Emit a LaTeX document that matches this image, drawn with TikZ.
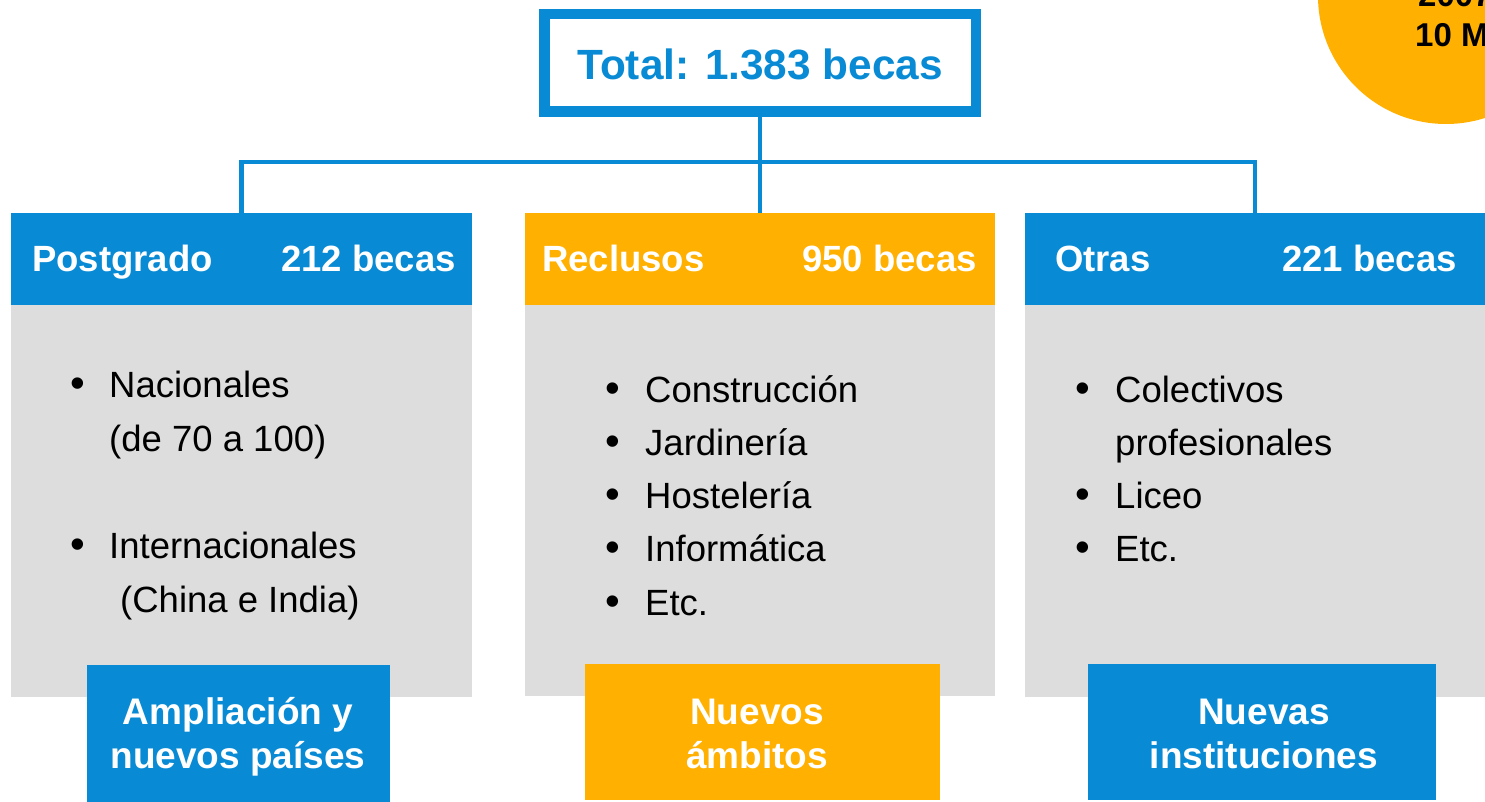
\documentclass[tikz,border=0pt]{standalone}
\usepackage{fontspec}
\setmainfont{Liberation Sans}
\definecolor{cblue}{HTML}{088BD4}
\definecolor{corange}{HTML}{FFB000}
\definecolor{cgray}{HTML}{DDDDDD}
\tikzset{
  box/.style={rectangle, inner sep=0pt, outer sep=0pt, anchor=north west},
  graybox/.style={box, fill=cgray},
  hdrtxt/.style={text=white, inner sep=0pt, font=\bfseries\fontsize{36.5}{44}\selectfont},
  listtxt/.style={text=black, inner sep=0pt, anchor=base west, font=\fontsize{36.5}{54}\selectfont},
  bottxt/.style={text=white, inner sep=0pt, anchor=base, font=\bfseries\fontsize{37}{44}\selectfont},
  conn/.style={draw=cblue, line width=4.5pt}
}
\begin{document}
\begin{tikzpicture}[x=1pt, y=-1pt]
\useasboundingbox (0,0) rectangle (1485,802);
\clip (0,0) rectangle (1485,802);
% circle at top right
\node[circle, fill=corange, inner sep=0pt, minimum size=256pt] (circ) at (1446,-4) {};
\node[anchor=base west, inner sep=0pt, font=\bfseries\fontsize{33}{40}\selectfont] (c1) at (1418,7) {2007};
\node[anchor=base west, inner sep=0pt, font=\bfseries\fontsize{33}{40}\selectfont] (c2) at (1415,47) {10 M};
% total box
\node[rectangle, draw=cblue, line width=10.5pt, fill=white, minimum width=431.5pt, minimum height=97.5pt, inner sep=0pt] (total) at (760,63) {};
\node[anchor=base, inner sep=0pt, text=cblue, font=\bfseries\fontsize{42.3}{50}\selectfont] (totaltxt) at (760,80) {Total: 1.383 becas};
% gray bodies
\node[graybox, minimum width=461pt, minimum height=392pt] (g1) at (11,305) {};
\node[graybox, minimum width=470pt, minimum height=391pt] (g2) at (525,305) {};
\node[graybox, minimum width=460pt, minimum height=392pt] (g3) at (1025,305) {};
% headers
\node[box, fill=cblue, minimum width=461pt, minimum height=92pt] (h1) at (11,213) {};
\node[box, fill=corange, minimum width=470pt, minimum height=92pt] (h2) at (525,213) {};
\node[box, fill=cblue, minimum width=460pt, minimum height=92pt] (h3) at (1025,213) {};
\node[hdrtxt, anchor=base west] (h1a) at (32,272) {Postgrado};
\node[hdrtxt, anchor=base east] (h1b) at (456,272) {212 becas};
\node[hdrtxt, anchor=base west] (h2a) at (542,272) {Reclusos};
\node[hdrtxt, anchor=base east] (h2b) at (977,272) {950 becas};
\node[hdrtxt, anchor=base west] (h3a) at (1055,272) {Otras};
\node[hdrtxt, anchor=base east] (h3b) at (1457,272) {221 becas};
% connectors
\draw[conn] (total.south) -- (h2.north);
\draw[conn] (h1.north) -- ++(0,-51) -| (h3.north);
% lists
\node[listtxt] (l1) at (70,397) {\begin{tabular}[t]{@{}p{39pt}@{}l@{}}{\fontsize{42}{54}\selectfont •}&Nacionales\\&(de 70 a 100)\\[53pt]{\fontsize{42}{54}\selectfont •}&Internacionales\\&\hspace{11pt}(China e India)\end{tabular}};
\node[listtxt, font=\fontsize{36.5}{53.3}\selectfont] (l2) at (605,402) {\begin{tabular}[t]{@{}p{40pt}@{}l@{}}{\fontsize{42}{54}\selectfont •}&Construcción\\{\fontsize{42}{54}\selectfont •}&Jardinería\\{\fontsize{42}{54}\selectfont •}&Hostelería\\{\fontsize{42}{54}\selectfont •}&Informática\\{\fontsize{42}{54}\selectfont •}&Etc.\end{tabular}};
\node[listtxt, font=\fontsize{36.5}{53.3}\selectfont] (l3) at (1075,402) {\begin{tabular}[t]{@{}p{40pt}@{}l@{}}{\fontsize{42}{54}\selectfont •}&Colectivos\\&profesionales\\{\fontsize{42}{54}\selectfont •}&Liceo\\{\fontsize{42}{54}\selectfont •}&Etc.\end{tabular}};
% bottom boxes
\node[box, fill=cblue, minimum width=303pt, minimum height=137pt] (b1) at (87,665) {};
\node[box, fill=corange, minimum width=355pt, minimum height=136pt] (b2) at (585,664) {};
\node[box, fill=cblue, minimum width=348pt, minimum height=136pt] (b3) at (1088,664) {};
\node[bottxt] (b1t) at (238,724) {\begin{tabular}[t]{@{}c@{}}Ampliación y\\nuevos países\end{tabular}};
\node[bottxt] (b2t) at (757,724) {\begin{tabular}[t]{@{}c@{}}Nuevos\\ámbitos\end{tabular}};
\node[bottxt] (b3t) at (1264,724) {\begin{tabular}[t]{@{}c@{}}Nuevas\\instituciones\end{tabular}};
\end{tikzpicture}
\end{document}
